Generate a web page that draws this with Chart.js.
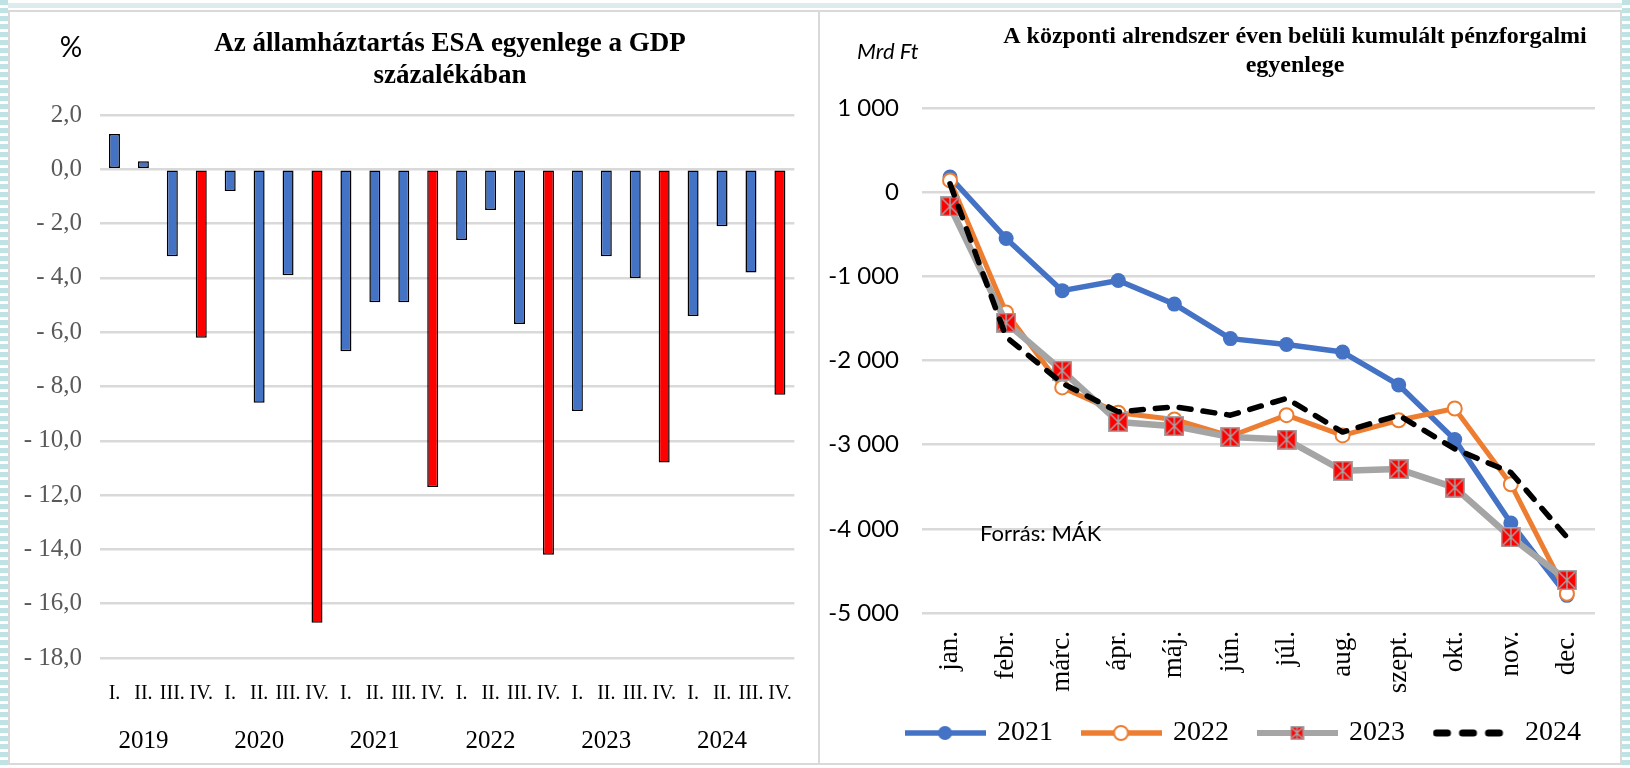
<!DOCTYPE html>
<html lang="hu">
<head>
<meta charset="utf-8">
<title>Államháztartás egyenlege</title>
<script src="https://cdn.jsdelivr.net/npm/chart.js@4.4.1/dist/chart.umd.min.js"></script>
<style>
  html, body { margin: 0; padding: 0; }
  body { width: 1630px; height: 768px; position: relative; overflow: hidden; background: #fff; }
  .stripe { position: absolute; top: 0; bottom: 0; width: 8px;
    background: repeating-linear-gradient(to bottom, #bfe3e5 0 5px, #fff 5px 8px); }
  .topband { position: absolute; left: 0; right: 0; top: 3px; height: 5px; background: #dcebec; }
  .panel { position: absolute; top: 10px; height: 755px; box-sizing: border-box;
    border: 2px solid #d9d9d9; background: #fff; }
  canvas { position: absolute; }
</style>
</head>
<body>
<div class="topband"></div>
<div class="stripe" style="left:0"></div>
<div class="stripe" style="left:1622px"></div>
<div class="panel" style="left:8px; width:812px"></div>
<div class="panel" style="left:818px; width:804px"></div>
<canvas id="esa-bar-chart" width="806" height="750" style="left:10px; top:12px"></canvas>
<canvas id="cash-line-chart" width="798" height="750" style="left:820px; top:12px"></canvas>
<script>
// bal oldali ábra: ESA egyenleg a GDP %-ában, negyedéves
const quarterNames = ['I.', 'II.', 'III.', 'IV.'];
const years = ['2019', '2020', '2021', '2022', '2023', '2024'];
const esaBalance = [1.3, 0.3, -3.2, -6.2, -0.8, -8.6, -3.9, -16.7, -6.7, -4.9, -4.9, -11.7,
                    -2.6, -1.5, -5.7, -14.2, -8.9, -3.2, -4.0, -10.8, -5.4, -2.1, -3.8, -8.3];

// jobb oldali ábra: kumulált pénzforgalmi egyenleg, Mrd Ft
const months = ['jan.', 'febr.', 'márc.', 'ápr.', 'máj.', 'jún.', 'júl.', 'aug.', 'szept.', 'okt.', 'nov.', 'dec.'];
const seriesNames = ['2021', '2022', '2023', '2024'];
const cum2021 = [180, -550, -1170, -1050, -1330, -1740, -1810, -1900, -2290, -2940, -3930, -4790];
const cum2022 = [140, -1430, -2320, -2620, -2700, -2900, -2650, -2890, -2710, -2570, -3470, -4770];
const cum2023 = [-170, -1550, -2120, -2730, -2780, -2910, -2940, -3310, -3290, -3510, -4100, -4610];
const cum2024 = [100, -1720, -2270, -2610, -2550, -2650, -2450, -2850, -2650, -3050, -3330, -4100];

const quarterLabels = years.flatMap(() => quarterNames);
const yearLabels = years.flatMap(y => quarterNames.map((q, i) => i === 1 ? y : ''));
const barColors = quarterLabels.map(q => q === 'IV.' ? '#FF0000' : '#4472C4');

const serif = '"Liberation Serif", "Times New Roman", serif';
const sans = 'Lato, "Open Sans", sans-serif';
const gridColor = '#d9d9d9';

// szöveges feliratok (cím, mértékegység, forrás)
const textNotes = {
  id: 'textNotes',
  afterDraw(chart, args, opts) {
    const ctx = chart.ctx;
    (opts.items || []).forEach(it => {
      ctx.save();
      ctx.font = it.font;
      ctx.fillStyle = it.color || '#000';
      ctx.textAlign = it.align || 'center';
      ctx.textBaseline = 'middle';
      ctx.fillText(it.text, it.x, it.y);
      ctx.restore();
    });
  }
};

// jelmagyarázat eltolása
const legendShift = {
  id: 'legendShift',
  afterLayout(chart, args, opts) {
    const lg = chart.legend;
    if (!lg) return;
    lg.left += opts.dx || 0;
    lg.top += opts.dy || 0;
    lg.bottom += opts.dy || 0;
  }
};

function fmtPct(v) {
  const s = Math.abs(v).toFixed(1).replace('.', ',');
  return v < 0 ? '- ' + s : s;
}
function fmtThousands(v) {
  const s = String(Math.abs(v)).replace(/\B(?=(\d{3})+(?!\d))/g, ' ');
  return v < 0 ? '-' + s : s;
}

new Chart(document.getElementById('esa-bar-chart'), {
  type: 'bar',
  data: {
    labels: quarterLabels,
    datasets: [{
      data: esaBalance,
      backgroundColor: barColors,
      borderColor: '#000',
      borderWidth: 1.5,
      borderSkipped: false,
      barPercentage: 0.38,
      categoryPercentage: 1
    }]
  },
  options: {
    responsive: false,
    animation: false,
    devicePixelRatio: 1,
    layout: { padding: { left: 0, right: 16, top: 103, bottom: 6 } },
    plugins: {
      legend: { display: false },
      tooltip: { enabled: false },
      textNotes: {
        items: [
          { text: 'Az államháztartás ESA egyenlege a GDP', x: 440, y: 32, font: 'bold 27px ' + serif },
          { text: 'százalékában', x: 440, y: 64, font: 'bold 27px ' + serif },
          { text: '%', x: 61, y: 36, font: '28px ' + sans }
        ]
      }
    },
    scales: {
      x: {
        weight: 0,
        afterFit(scale) { scale.height = 48; },
        grid: { display: false, drawTicks: false },
        border: { display: false },
        ticks: { autoSkip: false, maxRotation: 0, padding: 24, color: '#000', font: { family: serif, size: 20 } }
      },
      x2: {
        type: 'category',
        labels: yearLabels,
        position: 'bottom',
        offset: true,
        weight: 1,
        afterFit(scale) { scale.height = 50; },
        grid: { display: false, drawTicks: false },
        border: { display: false },
        ticks: { autoSkip: false, maxRotation: 0, padding: 20, color: '#000', font: { family: serif, size: 25 } }
      },
      y: {
        min: -18,
        max: 2,
        afterFit(scale) { scale.width = 90; },
        grid: { color: gridColor, lineWidth: 2.5, drawTicks: false },
        border: { display: false },
        ticks: { stepSize: 2, padding: 18, color: '#595959', font: { family: serif, size: 25 }, callback: v => fmtPct(v) }
      }
    }
  },
  plugins: [textNotes]
});

// jelölők
function marker2023(size) {
  const c = document.createElement('canvas');
  c.width = size; c.height = size;
  const g = c.getContext('2d');
  g.fillStyle = '#FF0000';
  g.fillRect(0, 0, size, size);
  g.strokeStyle = '#A5A5A5';
  g.lineWidth = 1.5;
  g.strokeRect(0.75, 0.75, size - 1.5, size - 1.5);
  g.beginPath();
  g.moveTo(2, 2); g.lineTo(size - 2, size - 2);
  g.moveTo(size - 2, 2); g.lineTo(2, size - 2);
  g.moveTo(size / 2, 1); g.lineTo(size / 2, size - 1);
  g.stroke();
  return c;
}
function legendIcon(color, width, marker, dash) {
  const w = 81, h = 24;
  const c = document.createElement('canvas');
  c.width = w; c.height = h;
  const g = c.getContext('2d');
  g.strokeStyle = color;
  g.lineWidth = width;
  g.lineCap = dash ? 'round' : 'butt';
  if (dash) g.setLineDash(dash);
  g.beginPath();
  g.moveTo(dash ? 4 : 0, h / 2); g.lineTo(dash ? w - 4 : w, h / 2);
  g.stroke();
  g.setLineDash([]);
  if (marker === 'filled') {
    g.fillStyle = color;
    g.beginPath(); g.arc(w / 2, h / 2, 7, 0, Math.PI * 2); g.fill();
  } else if (marker === 'hollow') {
    g.fillStyle = '#fff'; g.lineWidth = 2;
    g.beginPath(); g.arc(w / 2, h / 2, 7, 0, Math.PI * 2); g.fill(); g.stroke();
  } else if (marker === 'square') {
    g.drawImage(marker2023(14), w / 2 - 7, h / 2 - 7);
  }
  return c;
}

const legendIcons = [
  legendIcon('#4472C4', 5.5, 'filled'),
  legendIcon('#ED7D31', 5.5, 'hollow'),
  legendIcon('#A5A5A5', 6, 'square'),
  legendIcon('#000000', 7, null, [11, 15])
];

new Chart(document.getElementById('cash-line-chart'), {
  type: 'line',
  data: {
    labels: months,
    datasets: [
      { label: seriesNames[0], data: cum2021, order: 4, borderColor: '#4472C4', borderWidth: 5.5,
        pointRadius: 7.5, pointBackgroundColor: '#4472C4', pointBorderColor: '#4472C4', pointBorderWidth: 0 },
      { label: seriesNames[1], data: cum2022, order: 3, borderColor: '#ED7D31', borderWidth: 5,
        pointRadius: 7, pointBackgroundColor: '#fff', pointBorderColor: '#ED7D31', pointBorderWidth: 2 },
      { label: seriesNames[2], data: cum2023, order: 2, borderColor: '#A5A5A5', borderWidth: 6.5,
        pointStyle: marker2023(20), pointRadius: 10 },
      { label: seriesNames[3], data: cum2024, order: 1, borderColor: '#000', borderWidth: 5.5,
        borderDash: [12, 12], borderCapStyle: 'round', pointRadius: 0 }
    ]
  },
  options: {
    responsive: false,
    animation: false,
    devicePixelRatio: 1,
    layout: { padding: { left: 0, right: 3, top: 96, bottom: 0 } },
    elements: { line: { tension: 0, fill: false, borderJoinStyle: 'round' } },
    plugins: {
      tooltip: { enabled: false },
      legendShift: { dx: 53, dy: -5 },
      legend: {
        position: 'bottom',
        labels: {
          usePointStyle: true,
          pointStyleWidth: 76,
          padding: 30,
          color: '#000',
          font: { family: serif, size: 28 },
          sort: (a, b) => a.datasetIndex - b.datasetIndex,
          generateLabels(chart) {
            return Chart.defaults.plugins.legend.labels.generateLabels(chart)
              .map(item => Object.assign(item, { pointStyle: legendIcons[item.datasetIndex] }));
          }
        }
      },
      textNotes: {
        items: [
          { text: 'A központi alrendszer éven belüli kumulált pénzforgalmi', x: 475, y: 25, font: 'bold 24px ' + serif },
          { text: 'egyenlege', x: 475, y: 54, font: 'bold 24px ' + serif },
          { text: 'Mrd Ft', x: 37, y: 40, align: 'left', font: 'italic 22px ' + sans },
          { text: 'Forrás: MÁK', x: 160, y: 522, align: 'left', font: '22px ' + sans }
        ]
      }
    },
    scales: {
      x: {
        offset: true,
        afterFit(scale) { scale.height = 81; },
        grid: { display: false, drawTicks: false },
        border: { display: false },
        ticks: { autoSkip: false, minRotation: 90, maxRotation: 90, padding: 18, color: '#000', font: { family: serif, size: 27 } }
      },
      y: {
        min: -5000,
        max: 1000,
        afterFit(scale) { scale.width = 102; },
        grid: { color: gridColor, lineWidth: 2.5, drawTicks: false },
        border: { display: false },
        ticks: { stepSize: 1000, padding: 23, color: '#000', font: { family: sans, size: 24 }, callback: v => fmtThousands(v) }
      }
    }
  },
  plugins: [textNotes, legendShift]
});
</script>
</body>
</html>
